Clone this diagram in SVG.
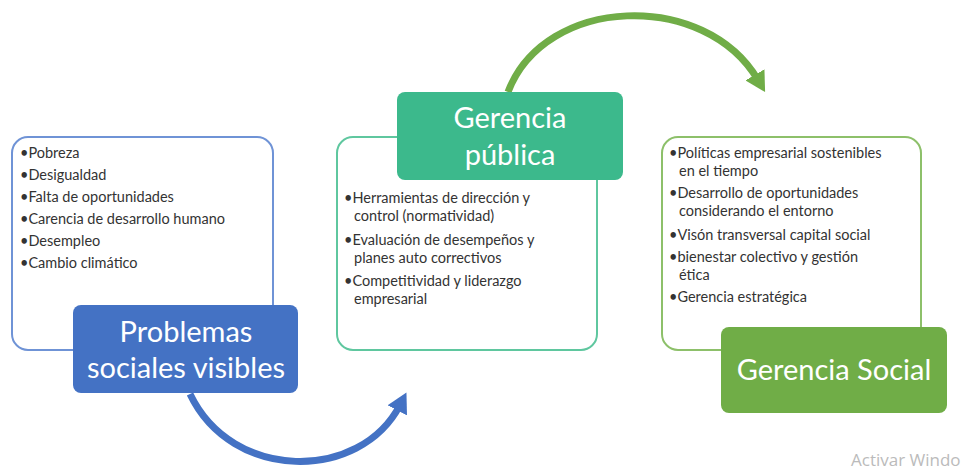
<svg xmlns="http://www.w3.org/2000/svg" width="975" height="474" viewBox="0 0 975 474">
<style>
.box{fill:#fff;stroke-width:2}
.b1{stroke:#6f93d6}
.b2{stroke:#5fc79f}
.b3{stroke:#8dc06a}
.lbl{stroke:none}
.t{font-family:Lato,"Open Sans",sans-serif;font-size:14.5px;fill:#333}
.h{font-family:Lato,"Open Sans",sans-serif;font-size:29px;fill:#fff;text-anchor:middle}
.wm{font-family:"Open Sans",sans-serif;font-size:17px;fill:#bbb}
</style>
<defs>
<marker id="ab" markerUnits="userSpaceOnUse" markerWidth="22" markerHeight="22" refX="6" refY="11" orient="auto" viewBox="0 0 22 22"><path d="M0,0 L20,11 L0,22 Z" fill="#4472c4"/></marker>
<marker id="ag" markerUnits="userSpaceOnUse" markerWidth="22" markerHeight="22" refX="6" refY="11" orient="auto" viewBox="0 0 22 22"><path d="M0,0 L20,11 L0,22 Z" fill="#70ad47"/></marker>
</defs>
<g id="connectors" fill="none" stroke-width="7">
<path d="M190,394 C232,482 360,482 400,405" stroke="#4472c4" marker-end="url(#ab)"/>
<path d="M508,92 C545,-5 705,-10 758,80" stroke="#70ad47" marker-end="url(#ag)"/>
</g>
<g id="node1">
<rect class="box b1" x="12" y="137" width="261" height="213" rx="16"/>
<text class="t"><tspan x="20" y="158">•Pobreza</tspan><tspan x="20" y="180">•Desigualdad</tspan><tspan x="20" y="202">•Falta de oportunidades</tspan><tspan x="20" y="224">•Carencia de desarrollo humano</tspan><tspan x="20" y="246">•Desempleo</tspan><tspan x="20" y="268">•Cambio climático</tspan></text>
</g>
<g id="label1">
<rect class="lbl" x="73" y="305" width="225" height="88" rx="8" fill="#4472c4"/>
<text class="h"><tspan x="186" y="342">Problemas</tspan><tspan x="186" y="378">sociales visibles</tspan></text>
</g>
<g id="node2">
<rect class="box b2" x="337" y="137" width="260" height="213" rx="16"/>
<text class="t"><tspan x="344" y="203">•Herramientas de dirección y</tspan><tspan x="354" y="221">control (normatividad)</tspan><tspan x="344" y="245">•Evaluación de desempeños y</tspan><tspan x="354" y="263">planes auto correctivos</tspan><tspan x="344" y="286">•Competitividad y liderazgo</tspan><tspan x="354" y="304">empresarial</tspan></text>
</g>
<g id="label2">
<rect class="lbl" x="397" y="92" width="226" height="88" rx="8" fill="#3cb98c"/>
<text class="h"><tspan x="510" y="128">Gerencia</tspan><tspan x="510" y="165">pública</tspan></text>
</g>
<g id="node3">
<rect class="box b3" x="662" y="137" width="259" height="213" rx="16"/>
<text class="t"><tspan x="669" y="158">•Políticas empresarial sostenibles</tspan><tspan x="679" y="176">en el tiempo</tspan><tspan x="669" y="198">•Desarrollo de oportunidades</tspan><tspan x="679" y="216">considerando el entorno</tspan><tspan x="669" y="240">•Visón transversal capital social</tspan><tspan x="669" y="262">•bienestar colectivo y gestión</tspan><tspan x="679" y="280">ética</tspan><tspan x="669" y="302">•Gerencia estratégica</tspan></text>
</g>
<g id="label3">
<rect class="lbl" x="721" y="327" width="226" height="86" rx="8" fill="#70ad47"/>
<text class="h" x="834" y="380">Gerencia Social</text>
</g>
<text class="wm" x="851" y="466">Activar Windo</text>
</svg>
